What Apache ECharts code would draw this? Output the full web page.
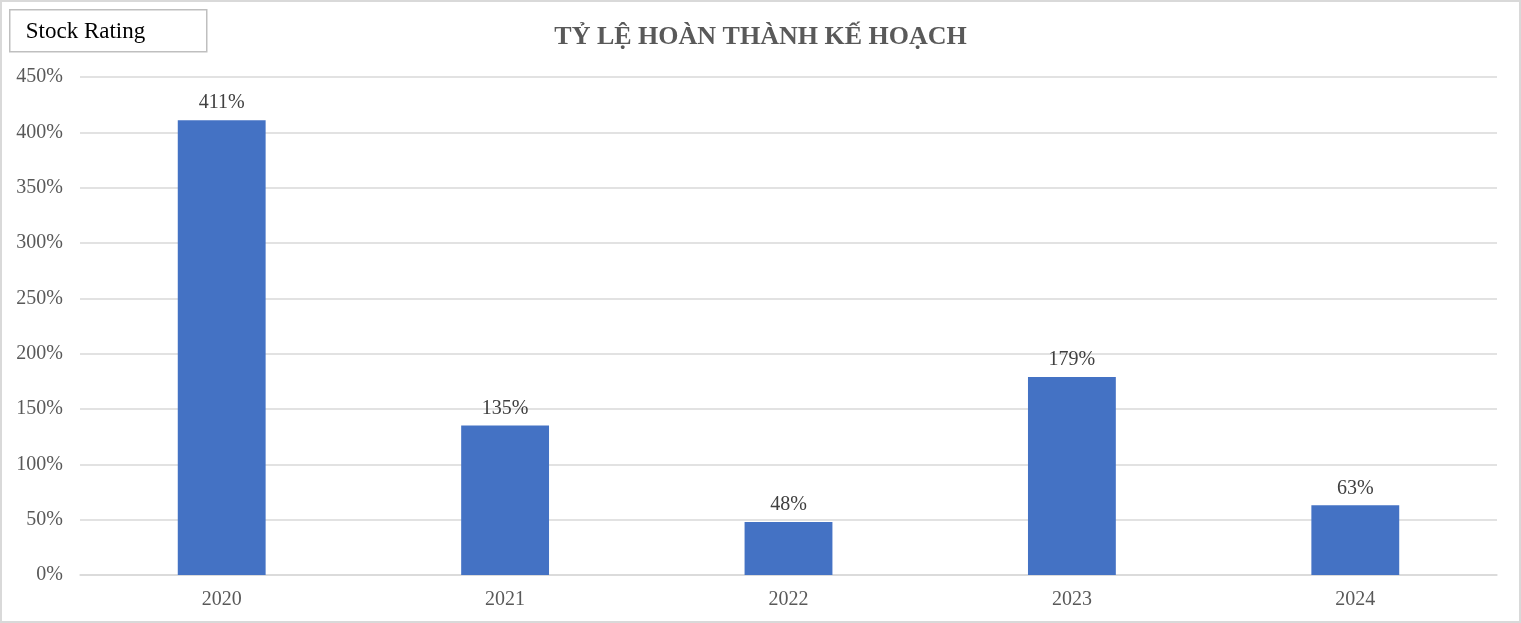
<!DOCTYPE html>
<html>
<head>
<meta charset="utf-8">
<script src="https://cdn.jsdelivr.net/npm/echarts@6/dist/echarts.min.js"></script>
<style>
  html, body { margin: 0; padding: 0; background: #fff; }
  #main { width: 1521px; height: 623px; box-sizing: border-box; border: 2px solid #d9d9d9; }
</style>
</head>
<body>
<div id="main"></div>
<script>
  // dữ liệu biểu đồ
  const years = ['2020', '2021', '2022', '2023', '2024'];
  const ratios = [411, 135, 48, 179, 63];
  const yTicks = [0, 50, 100, 150, 200, 250, 300, 350, 400, 450];

  const chart = echarts.init(document.getElementById('main'));
  const serif = '"Liberation Serif", "DejaVu Serif", serif';

  const option = {
    animation: false,
    textStyle: { fontFamily: serif },
    title: {
      text: 'TỶ LỆ HOÀN THÀNH KẾ HOẠCH',
      left: 'center',
      top: 17,
      textStyle: { fontFamily: serif, fontSize: 26, fontWeight: 'bold', color: '#595959' }
    },
    graphic: [{
      type: 'group',
      left: 7,
      top: 7,
      children: [{
        type: 'rect',
        shape: { x: 0, y: 0, width: 197, height: 42 },
        style: { fill: '#fff', stroke: '#bfbfbf', lineWidth: 1.5 }
      }, {
        type: 'text',
        x: 16,
        y: 22,
        style: { text: 'Stock Rating', font: '23px ' + serif, fill: '#000', verticalAlign: 'middle' }
      }]
    }],
    grid: { left: 78, right: 22, top: 75, bottom: 46 },
    xAxis: {
      type: 'category',
      data: years,
      axisTick: { show: false },
      axisLine: { lineStyle: { color: '#d9d9d9', width: 1.5 } },
      axisLabel: { color: '#595959', fontSize: 20, margin: 15 }
    },
    yAxis: {
      type: 'value',
      min: yTicks[0],
      max: yTicks[yTicks.length - 1],
      interval: 50,
      axisLabel: { color: '#595959', fontSize: 20, margin: 17, formatter: v => v + '%' },
      splitLine: { lineStyle: { color: '#d9d9d9', width: 1.5 } }
    },
    series: [{
      type: 'bar',
      data: ratios,
      barWidth: '31%',
      itemStyle: { color: '#4472c4' },
      label: {
        show: true,
        position: 'top',
        distance: 7,
        color: '#404040',
        fontSize: 20,
        formatter: p => p.value + '%'
      }
    }]
  };

  chart.setOption(option);
</script>
</body>
</html>
